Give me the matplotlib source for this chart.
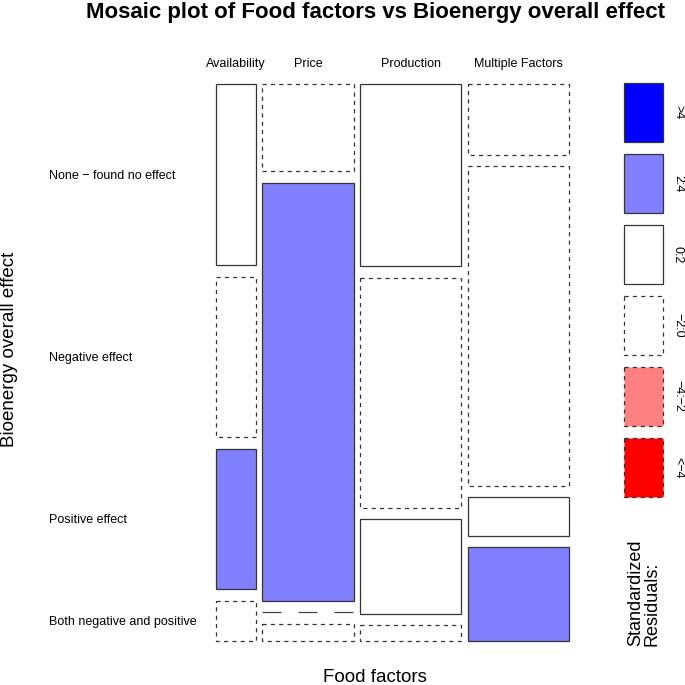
import matplotlib
matplotlib.use("Agg")
import matplotlib.pyplot as plt
from matplotlib.patches import Rectangle
import numpy as np

plt.rcParams['font.family'] = ['Liberation Sans', 'DejaVu Sans']
plt.rcParams['lines.scale_dashes'] = False

# ---- data ----
food_factors = ["Availability", "Price", "Production", "Multiple Factors"]
effects = ["None \u2212 found no effect", "Negative effect", "Positive effect",
           "Both negative and positive"]
# counts per food factor (columns) for each effect (rows)
availability = [9, 8, 7, 2]
price = [10, 48, 0, 2]
production = [23, 29, 12, 2]
multiple = [9, 41, 5, 12]
# standardized residuals (approximate, read from shading)
res_availability = [1.2, -1.8, 2.5, -0.1]
res_price = [-1.1, 2.3, -2.6, -1.3]
res_production = [1.9, -1.5, 1.8, -1.5]
res_multiple = [-1.7, -0.5, 0.9, 2.8]
legend_labels = [">4", "2:4", "0:2", "\u22122:0", "\u22124:\u22122", "<\u22124"]
legend_mid = [5, 3, 1, -1, -3, -5]

counts = np.array([availability, price, production, multiple], dtype=float)
resid = np.array([res_availability, res_price, res_production, res_multiple])

def shade(r):
    if r > 4:
        return "#0000FF", "solid"
    if r > 2:
        return "#8080FF", "solid"
    if r >= 0:
        return "#FFFFFF", "solid"
    if r > -2:
        return "#FFFFFF", "dashed"
    if r > -4:
        return "#FF8080", "dashed"
    return "#FF0000", "dashed"

W = H = 685
fig = plt.figure(figsize=(6.85, 6.85), dpi=100)
ax = fig.add_axes([0, 0, 1, 1])
ax.set_xlim(0, W)
ax.set_ylim(H, 0)
ax.axis("off")

edge = "#333333"
lw = 0.9
dash = (0, (3.0, 3.0))

x0, x1 = 216.0, 569.5
y0, y1 = 84.3, 641.0
hgap, vgap = 6.7, 11.3
ncol, nrow = counts.shape
avail_w = (x1 - x0) - hgap * (ncol - 1)
avail_h = (y1 - y0) - vgap * (nrow - 1)
col_tot = counts.sum(axis=1)
widths = col_tot / col_tot.sum() * avail_w

xc = x0
label_rows = []
for i in range(ncol):
    w = widths[i]
    yc = y0
    for j in range(nrow):
        h = counts[i, j] / col_tot[i] * avail_h
        fc, ls = shade(resid[i, j])
        if h > 0:
            ax.add_patch(Rectangle((xc, yc), w, h, facecolor=fc, edgecolor=edge,
                                   lw=lw, linestyle=dash if ls == "dashed" else "solid"))
        else:
            ax.plot([xc, xc + w], [yc, yc], color="#444444", lw=lw,
                    linestyle=(0, (13.7, 12.2)) if ls == "dashed" else "solid")
        if i == 0:
            label_rows.append(yc + h / 2)
        yc += h + vgap
    ax.text(xc + w / 2, 67, food_factors[i], ha="center", va="baseline", fontsize=9)
    xc += w + hgap

for lab, yy in zip(effects, label_rows):
    ax.text(49, yy + 1, lab, ha="left", va="center", fontsize=9)

ax.text(376, 12, "Mosaic plot of Food factors vs Bioenergy overall effect",
        ha="center", va="center", fontsize=16, fontweight="bold")
ax.text(375, 678, "Food factors", ha="center", va="center", fontsize=13.5)
ax.text(10, 349, "Bioenergy overall effect", ha="center", va="center",
        fontsize=13.5, rotation=90)

# legend
ly0, pitch, bh = 83.0, 71.0, 58.5
for k, (lab, m) in enumerate(zip(legend_labels, legend_mid)):
    fc, ls = shade(m)
    top = ly0 + k * pitch
    ax.add_patch(Rectangle((624, top), 39, bh, facecolor=fc, edgecolor=edge, lw=lw,
                           linestyle=dash if ls == "dashed" else "solid"))
    ax.text(678, top + bh / 2, lab, ha="center", va="center", fontsize=9, rotation=-90)

ax.text(644, 646, "Standardized\nResiduals:", ha="center", va="bottom", fontsize=13,
        rotation=90, multialignment="left", linespacing=1.0)

fig.savefig("out.png", dpi=100)
